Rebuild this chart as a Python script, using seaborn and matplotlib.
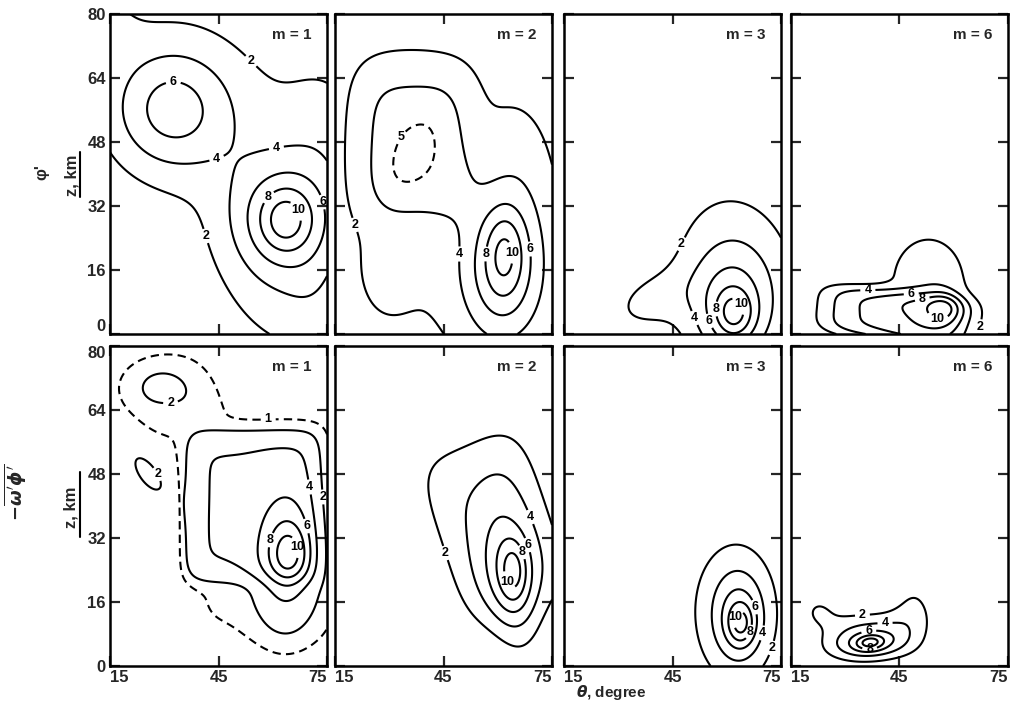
import numpy as np
import matplotlib
matplotlib.use("Agg")
import matplotlib.pyplot as plt
import seaborn as sns

# =========================
# Values
# =========================
m_labels = ["m = 1", "m = 2", "m = 3", "m = 6"]
theta_ticks = [15, 45, 75]
z_ticks = [0, 16, 32, 48, 64, 80]
solid_levels = [2, 4, 6, 8, 10]

# each maximum: theta centre, z centre, theta width, z width, tilt (deg), amplitude, flatness
phi_m1 = [
    (52, 49, 50, 24, -45, 1.6, 2),
    (32, 56, 12, 11, 0, 5.6, 2),
    (63, 22, 13, 20, 0, 2.6, 2),
    (63.5, 29, 10, 9.5, 0, 4.5, 2),
    (63.5, 28.5, 4.5, 5, 0, 3.0, 2),
    (75, 52, 8, 14, 0, 1.2, 2),
    (72, 8, 6, 10, 0, 0.8, 2),
    (15, 80, 6, 8, 0, 0.9, 2),
]
phi_m2 = [
    (37, 48, 14, 17, 0, 2.6, 4),
    (36, 45, 22, 30, 0, 2.2, 2),
    (37, 44, 5, 9, -30, 0.5, 2),
    (29, 14, 6, 9, 0, 1.5, 2),
    (63, 10, 15, 18, 0, 3.0, 2),
    (61, 17, 6.5, 11, 0, 4.5, 2),
    (62, 21, 3.5, 7, 0, 2.5, 2),
    (67, 40, 8, 16, 0, 1.8, 2),
]
phi_m3 = [
    (62, 5, 3.5, 4, 0, 4.0, 2),
    (61, 6, 8, 10, 0, 4.5, 2),
    (63, 15, 13, 17, 15, 3.4, 2),
    (38, 8, 8.5, 5, 20, 2.2, 2),
]
phi_m6 = [
    (44, 4.5, 18, 5.5, -6, 6.0, 4),
    (53, 13, 9, 10, 0, 3.5, 2),
    (57.5, 6.5, 3.5, 3, 0, 4.0, 2),
]
flux_m1 = [
    (64.5, 28, 3.5, 5, 0, 3.5, 2),
    (63.5, 27, 6, 12, 0, 4.0, 2),
    (54, 40, 17, 17, 0, 3.0, 8),
    (58, 35, 21, 29, 0, 1.15, 6),
    (29.5, 69.5, 9, 6, 0, 2.4, 2),
    (31, 60, 6, 12, -25, 0.6, 2),
    (25.5, 48, 7, 3.2, -50, 2.5, 2),
]
flux_m2 = [
    (59, 35, 14, 20, 20, 3.8, 4),
    (63.5, 22, 5, 12, 10, 5.0, 2),
    (64.5, 24, 2.5, 5, 0, 3.0, 2),
]
flux_m3 = [
    (64, 10.5, 2.5, 3.5, 0, 4.0, 2),
    (63.5, 12, 5, 8, 0, 4.0, 2),
    (62, 14, 9.5, 14, 0, 3.4, 2),
]
flux_m6 = [
    (37, 6, 7, 3, 5, 5.0, 2),
    (36.8, 5.8, 2.5, 1.2, 5, 4.0, 2),
    (36, 8, 11, 5, 0, 2.5, 3),
    (22.5, 14, 3.5, 3, 0, 1.8, 2),
    (49, 14, 4.5, 6, 0, 2.2, 2),
]

rows = [
    [phi_m1, phi_m2, phi_m3, phi_m6],
    [flux_m1, flux_m2, flux_m3, flux_m6],
]
# dashed isolines; maxima left out of the solid and of the dashed isolines
dashed_levels = [
    [[], [5], [], []],
    [[1], [], [], []],
]
solid_skip = [
    [[], [], [], []],
    [[5], [], [], []],
]
dashed_skip = [
    [[], [4, 5, 6, 7], [], []],
    [[6], [], [], []],
]


def build_field(blobs, th, zz, skip=()):
    """Sum of elliptical maxima on the theta-z grid."""
    f = np.zeros_like(th)
    for i, (t0, z0, st, sz, tilt, amp, p) in enumerate(blobs):
        if i in skip:
            continue
        a = np.radians(tilt)
        dt, dz = th - t0, zz - z0
        u = dt * np.cos(a) + dz * np.sin(a)
        v = -dt * np.sin(a) + dz * np.cos(a)
        f += amp * np.exp(-0.5 * (np.abs(u / st) ** p + np.abs(v / sz) ** p))
    return f


def upright_labels(ax, cs):
    texts = ax.clabel(cs, fmt="%d", fontsize=9, inline=True, inline_spacing=4)
    for t in texts:
        t.set_rotation(0)
        t.set_fontweight("bold")


# =========================
# Style
# =========================
sns.set_theme(style="white")
plt.rcParams["font.family"] = ["Liberation Sans", "DejaVu Sans"]
plt.rcParams["font.weight"] = "bold"
plt.rcParams["axes.linewidth"] = 1.8
plt.rcParams["axes.edgecolor"] = "black"

fig = plt.figure(figsize=(10.36, 7.13), dpi=100)
W, H = 1036, 713
col_left = [110, 335, 564, 791]
row_top = [14, 346]
pw, ph = 217, 320

theta = np.linspace(15, 75, 241)
z = np.linspace(0, 80, 321)
TH, ZZ = np.meshgrid(theta, z)

for r in range(2):
    for c in range(4):
        ax = fig.add_axes([col_left[c] / W, (H - row_top[r] - ph) / H, pw / W, ph / H])
        ax.set_facecolor("white")
        blobs = rows[r][c]
        field = build_field(blobs, TH, ZZ, skip=solid_skip[r][c])

        cs = ax.contour(TH, ZZ, field, levels=solid_levels, colors="black",
                        linewidths=1.5, linestyles="solid")
        upright_labels(ax, cs)
        if dashed_levels[r][c]:
            field_d = build_field(blobs, TH, ZZ, skip=dashed_skip[r][c])
            cd = ax.contour(TH, ZZ, field_d, levels=dashed_levels[r][c], colors="black",
                            linewidths=1.5, linestyles=[(0, (4, 2.5))])
            upright_labels(ax, cd)

        ax.set_xlim(15, 75)
        ax.set_ylim(0, 80)
        ax.set_xticks(theta_ticks)
        ax.set_yticks(z_ticks)
        ax.tick_params(direction="in", length=7, width=1.6, top=True, right=True,
                       left=True, bottom=True, labelsize=12, pad=3)
        if c > 0:
            ax.tick_params(labelleft=False)
        else:
            ylabs = ax.get_yticklabels()
            if r == 0:
                ylabs[0].set_va("bottom")
            else:
                ylabs[-1].set_va("top")
        if r == 0:
            ax.tick_params(labelbottom=False)
        else:
            labels = ax.set_xticklabels([str(t) for t in theta_ticks])
            labels[0].set_ha("left")
            labels[2].set_ha("right")
        for lab in ax.get_xticklabels() + ax.get_yticklabels():
            lab.set_fontweight("bold")
        for sp in ax.spines.values():
            sp.set_visible(True)
            sp.set_linewidth(1.8)
        ax.text(0.93, 0.955, m_labels[c], transform=ax.transAxes, ha="right", va="top",
                fontsize=11, fontweight="bold")

# y-axis labels drawn as in the original (quantity, "z, km" and a bar)
fig.text(42 / W, 1 - 172 / H, "φ'", rotation=90, ha="center", va="center",
         fontsize=12, fontweight="bold")
fig.text(72 / W, 1 - 175 / H, "z, km", rotation=90, ha="center", va="center",
         fontsize=12, fontweight="bold")
fig.add_artist(plt.Line2D([80 / W, 80 / W], [1 - 152 / H, 1 - 197 / H], color="black", lw=1.5))

fig.text(15 / W, 1 - 492 / H, r"$-\overline{\omega'\phi'}$", rotation=90, ha="center",
         va="center", fontsize=13)
fig.text(71 / W, 1 - 507 / H, "z, km", rotation=90, ha="center", va="center",
         fontsize=12, fontweight="bold")
fig.add_artist(plt.Line2D([80 / W, 80 / W], [1 - 472 / H, 1 - 537 / H], color="black", lw=1.5))

fig.text(611 / W, 1 - 692 / H, r"$\theta$, degree", ha="center", va="center",
         fontsize=11, fontweight="bold")

fig.savefig("out.png", dpi=100, facecolor="white")
